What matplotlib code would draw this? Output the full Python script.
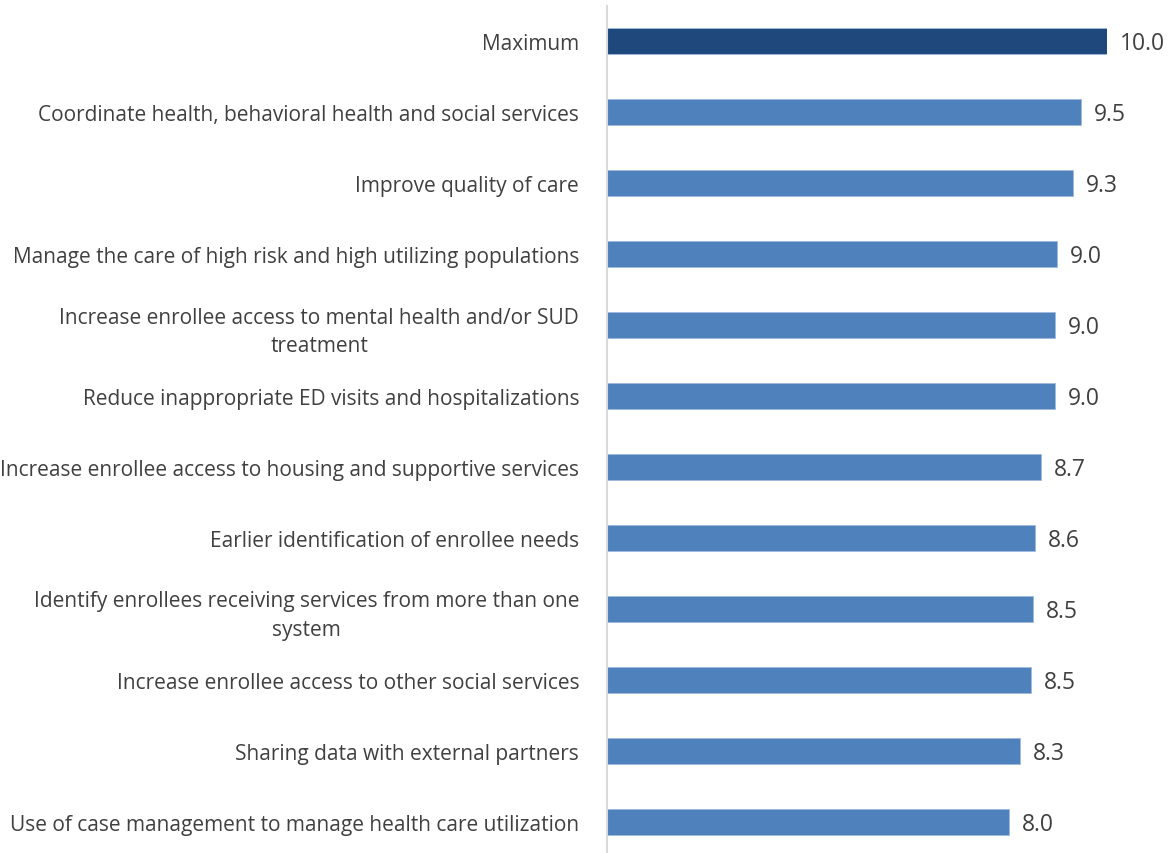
import matplotlib.pyplot as plt

categories = [
    "Maximum",
    "Coordinate health, behavioral health and social services",
    "Improve quality of care",
    "Manage the care of high risk and high utilizing populations",
    "Increase enrollee access to mental health and/or SUD\ntreatment",
    "Reduce inappropriate ED visits and hospitalizations",
    "Increase enrollee access to housing and supportive services",
    "Earlier identification of enrollee needs",
    "Identify enrollees receiving services from more than one\nsystem",
    "Increase enrollee access to other social services",
    "Sharing data with external partners",
    "Use of case management to manage health care utilization",
]
scores = [10.0, 9.47, 9.32, 8.99, 8.96, 8.96, 8.68, 8.56, 8.51, 8.47, 8.26, 8.03]
bar_colors = ["#1F497D"] + ["#4F81BD"] * (len(scores) - 1)

W, H = 1172, 854
fig = plt.figure(figsize=(W / 100, H / 100), dpi=100)
ax = fig.add_axes([607 / W, -4.5 / H, 500 / W, 852 / H])

ypos = list(range(len(categories)))
ax.barh(ypos, scores, height=0.37, color=bar_colors, edgecolor="#9DB9DB", linewidth=0.6)
ax.set_xlim(0, 10)
ax.set_ylim(len(categories) - 0.5, -0.5)

for y, v in zip(ypos, scores):
    ax.text(v + 0.26, y + 0.03, f"{v:.1f}", va="center", ha="left", fontsize=16.5,
            family="Open Sans", color="#404040", clip_on=False)

ax.set_yticks(ypos)
ax.set_yticklabels(categories, fontsize=15, family="Open Sans", color="#404040",
                   multialignment="center", linespacing=1.45)
ax.tick_params(axis="y", length=0, pad=20)
ax.set_xticks([])

for s in ["top", "right", "bottom"]:
    ax.spines[s].set_visible(False)
ax.spines["left"].set_color("#D9D9D9")
ax.spines["left"].set_linewidth(1.5)

fig.savefig("out.png", dpi=100, facecolor="white")
